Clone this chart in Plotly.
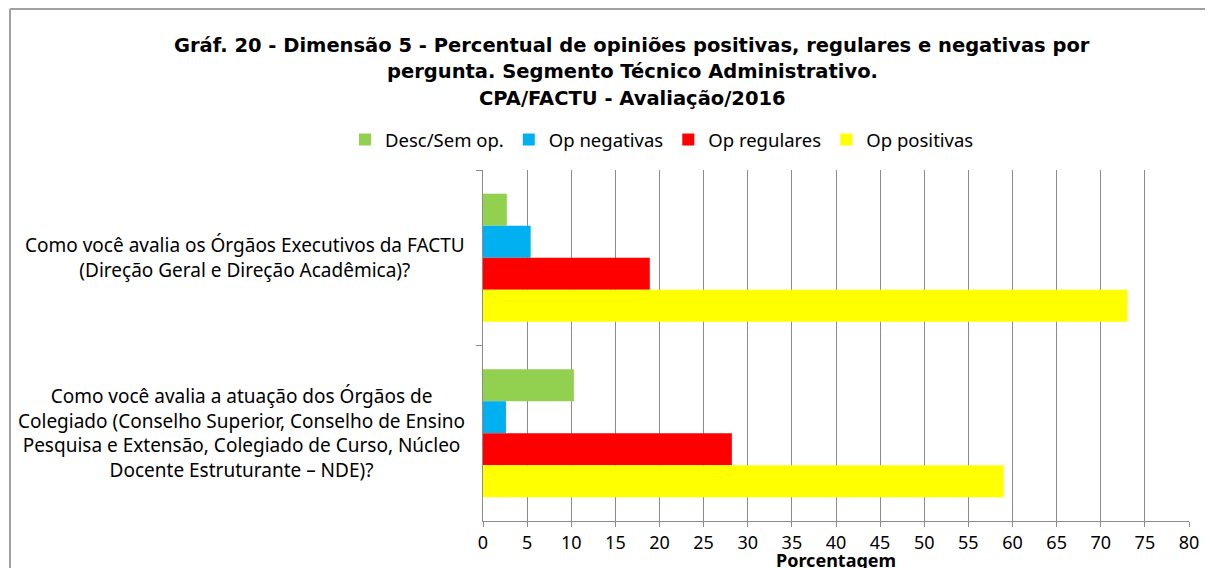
import plotly.graph_objects as go

categories = [
    "Como você avalia os Órgãos Executivos da FACTU<br>(Direção Geral e Direção Acadêmica)?",
    "Como você avalia a atuação dos Órgãos de<br>Colegiado (Conselho Superior, Conselho de Ensino<br>Pesquisa e Extensão, Colegiado de Curso, Núcleo<br>Docente Estruturante – NDE)?",
]
series_names = ["Desc/Sem op.", "Op negativas", "Op regulares", "Op positivas"]
desc_sem_op = [2.7, 10.3]
op_negativas = [5.4, 2.6]
op_regulares = [18.9, 28.2]
op_positivas = [73.0, 59.0]
x_ticks = list(range(0, 85, 5))
x_title = "Porcentagem"
title_lines = [
    "Gráf. 20 - Dimensão 5 - Percentual de opiniões positivas, regulares e negativas por",
    "pergunta. Segmento Técnico Administrativo.",
    "CPA/FACTU - Avaliação/2016",
]
colors = ["#92D050", "#00B0F0", "#FF0000", "#FFFF00"]

# page is offset by the 8px body margin
OFF = 8
W, H = 1213 - OFF, 568 - OFF
L, R, T, B = 483, 1189, 170, 521  # plot area in page pixels

fig = go.Figure()
for name, vals, c in zip(series_names, [desc_sem_op, op_negativas, op_regulares, op_positivas], colors):
    fig.add_trace(go.Bar(y=categories, x=vals, name=name, orientation="h",
                         marker=dict(color=c, line=dict(width=0))))

def px_x(p):
    return (p - L) / (R - L)

def px_y(p):
    return (B - p) / (B - T)

annotations = []
for i, line in enumerate(title_lines):
    annotations.append(dict(text=line, xref="paper", yref="paper", x=px_x(632), y=px_y([45, 72, 98][i]),
                            xanchor="center", yanchor="middle", showarrow=False,
                            font=dict(family="DejaVu Sans", size=19.5, color="black", weight="bold")))
for cat in categories:
    annotations.append(dict(text=cat, xref="paper", yref="y", x=px_x(467), y=cat,
                            xanchor="right", yanchor="middle", align="center", showarrow=False,
                            font=dict(family="Noto Sans", size=19, color="black")))
annotations.append(dict(text="<b>" + x_title + "</b>", xref="paper", yref="paper", x=0.5, y=px_y(560),
                        xanchor="center", yanchor="middle", showarrow=False,
                        font=dict(family="Noto Sans", size=18, color="black")))

shapes = [
    dict(type="line", xref="paper", yref="paper", x0=px_x(10), x1=px_x(1240), y0=px_y(9), y1=px_y(9),
         line=dict(color="#A0A0A0", width=2)),
    dict(type="line", xref="paper", yref="paper", x0=px_x(10), x1=px_x(10), y0=px_y(9), y1=px_y(620),
         line=dict(color="#A0A0A0", width=2)),
]

fig.update_layout(
    width=W, height=H,
    margin=dict(l=L - OFF, r=W - (R - OFF), t=T - OFF, b=H - (B - OFF), pad=0, autoexpand=False),
    paper_bgcolor="white", plot_bgcolor="white",
    barmode="group", bargap=0.27, bargroupgap=0,
    font=dict(family="Noto Sans", size=17, color="black"),
    showlegend=True,
    legend=dict(orientation="h", x=px_x(662), y=px_y(140), xanchor="center", yanchor="middle",
                font=dict(family="Noto Sans", size=18.5, color="black"), traceorder="normal",
                itemwidth=30),
    annotations=annotations,
    shapes=shapes,
)
fig.update_xaxes(range=[0, 80], tickvals=x_ticks, showgrid=True, gridcolor="#8C8C8C", gridwidth=1,
                 showline=True, linecolor="#8C8C8C", linewidth=1, ticks="outside", ticklen=5,
                 tickcolor="#8C8C8C", zeroline=False, automargin=False, ticklabelstandoff=0,
                 tickfont=dict(family="Noto Sans", size=18, color="black"))
fig.update_yaxes(autorange="reversed", showticklabels=False, ticks="outside", ticklen=6,
                 tickson="boundaries", tickcolor="#8C8C8C", showline=True, linecolor="#8C8C8C",
                 linewidth=1, showgrid=False, automargin=False)

fig.write_html("out.html")
